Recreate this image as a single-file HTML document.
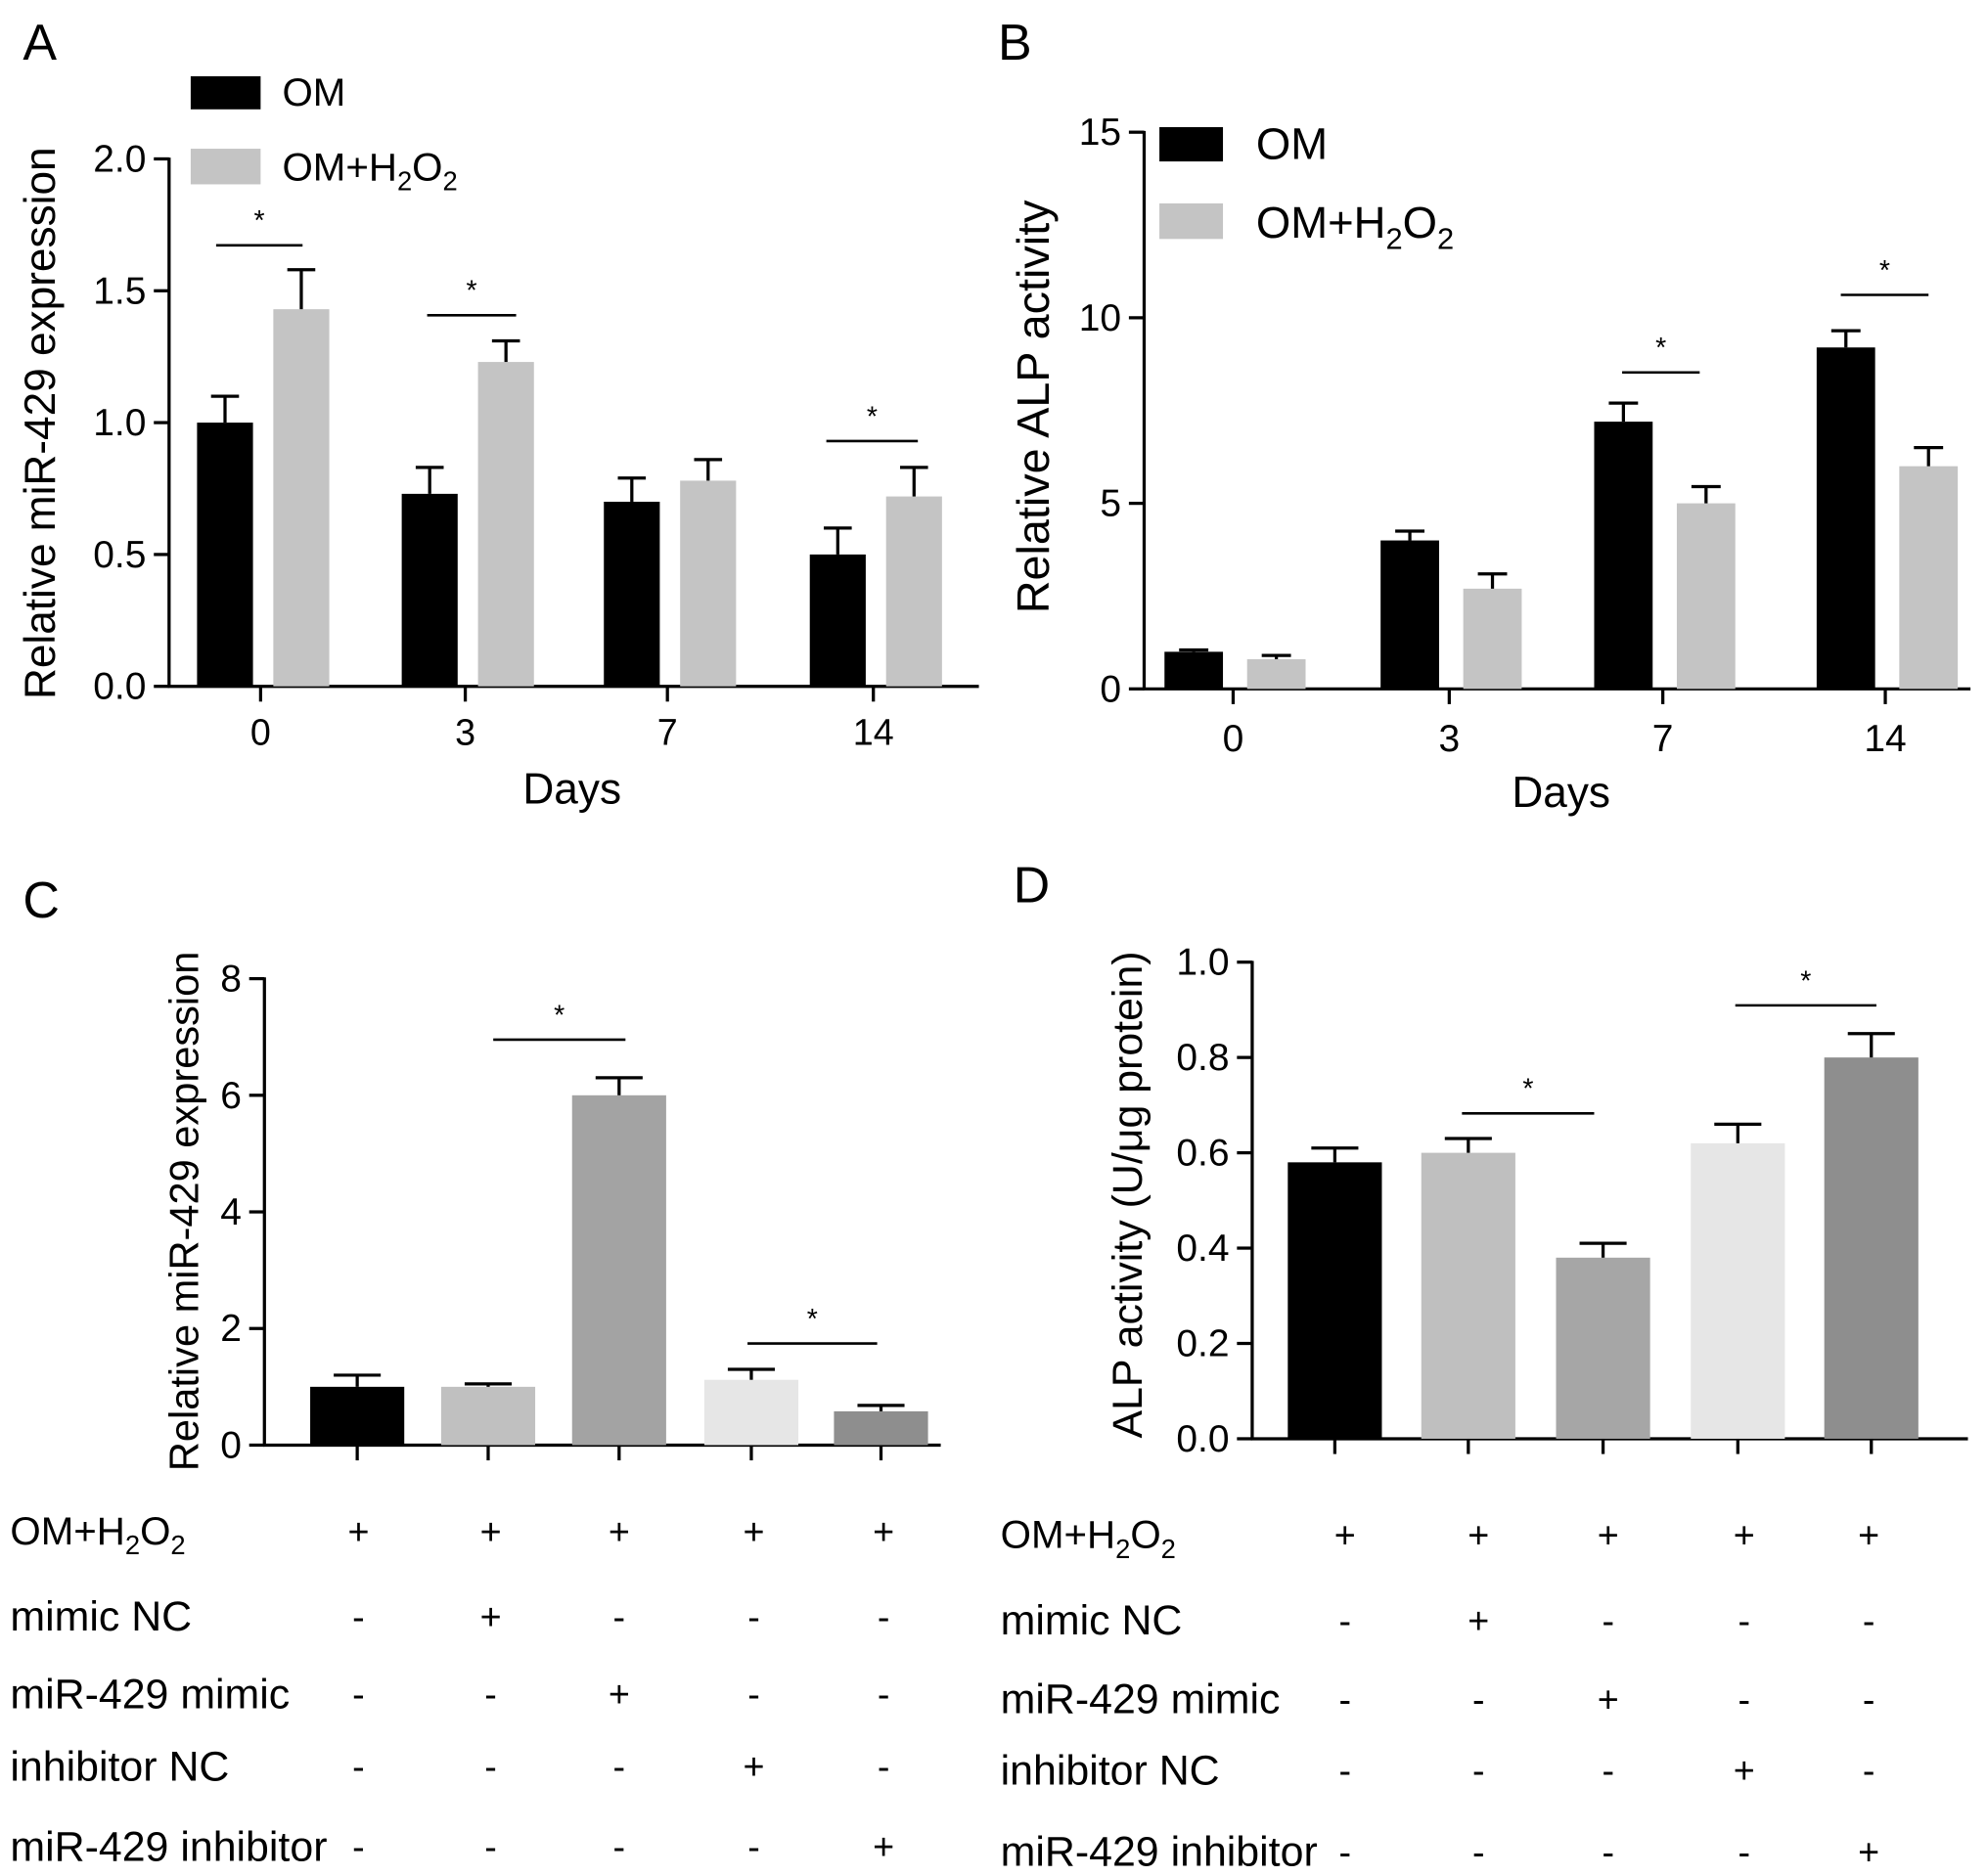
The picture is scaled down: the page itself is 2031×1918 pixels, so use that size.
<!DOCTYPE html>
<html><head><meta charset="utf-8"><style>
html,body{margin:0;padding:0;background:#fff}
svg{display:block;font-family:"Liberation Sans",Arial,sans-serif}
</style></head><body>
<svg id="fig" width="2031" height="1918" viewBox="0 0 1563 1476" xmlns="http://www.w3.org/2000/svg">
<g id="root"></g>
</svg>
<script>
// Panel A data
const aCats=["0","3","7","14"];
const aOM=[1.0,0.73,0.70,0.50];
const aOMerr=[0.10,0.10,0.09,0.10];
const aH=[1.43,1.23,0.78,0.72];
const aHerr=[0.15,0.08,0.08,0.11];
const aTicks=[0,0.5,1.0,1.5,2.0];
// Panel B data
const bCats=["0","3","7","14"];
const bOM=[1.0,4.0,7.2,9.2];
const bOMerr=[0.05,0.25,0.5,0.45];
const bH=[0.8,2.7,5.0,6.0];
const bHerr=[0.1,0.4,0.45,0.5];
const bTicks=[0,5,10,15];
// Panel C data
const cVals=[1.0,1.0,6.0,1.12,0.58];
const cErr=[0.2,0.05,0.3,0.18,0.1];
const cTicks=[0,2,4,6,8];
// Panel D data
const dVals=[0.58,0.60,0.38,0.62,0.80];
const dErr=[0.03,0.03,0.03,0.04,0.05];
const dTicks=[0,0.2,0.4,0.6,0.8,1.0];
const rowLabels=["OM+H\u2082O\u2082","mimic NC","miR-429 mimic","inhibitor NC","miR-429 inhibitor"];
const signs=[["+","+","+","+","+"],["-","+","-","-","-"],["-","-","+","-","-"],["-","-","-","+","-"],["-","-","-","-","+"]];

const NS="http://www.w3.org/2000/svg";
const root=document.getElementById('root');
function el(tag,attrs,parent,text){const e=document.createElementNS(NS,tag);for(const k in attrs)e.setAttribute(k,attrs[k]);if(text!==undefined)e.textContent=text;(parent||root).appendChild(e);return e;}
function line(x1,y1,x2,y2,w,p){return el('line',{x1,y1,x2,y2,stroke:'#000','stroke-width':w||2.5},p);}

function axes(x0,y0,yTop,xEnd,ticks,yFn,fmt,name,p){
  const g=el('g',{},p);
  
  
  line(x0,y0,x0,yTop-1,2.5,g);
  line(x0-1,y0,xEnd,y0,2.5,g);
  ticks.forEach(t=>{const y=yFn(t);line(x0-12,y,x0,y,2.5,g);
    const tx=el('text',{x:x0-18,y:y+10,'text-anchor':'end','font-size':30},g,fmt(t));
    
    });
  return g;
}
function bar(x,w,y0,yv,ye,color,name,p){
  const r=el('rect',{x:x-w/2,y:yv,width:w,height:y0-yv,fill:color},p);
  
  
  line(x,yv,x,ye,2.5,p);line(x-w/4,ye,x+w/4,ye,2.5,p);
}
function sig(x1,x2,y,p){line(x1,y,x2,y,2,p);el('text',{x:(x1+x2)/2,y:y-12,'text-anchor':'middle','font-size':22},p,'*');}
function ylabel(x,y,txt,name,size){const t=el('text',{x:0,y:0,transform:`translate(${x},${y}) rotate(-90)`,'text-anchor':'middle','font-size':size||30});t.textContent=txt;
  
  return t;}
function sub(parent,x,y,size,anchor){
  const t=el('text',{x,y,'font-size':size,'text-anchor':anchor||'start'},parent);
  el('tspan',{},t,'OM+H');
  el('tspan',{'font-size':size*0.68,dy:size*0.25},t,'2');
  el('tspan',{dy:-size*0.25},t,'O');
  el('tspan',{'font-size':size*0.68,dy:size*0.25},t,'2');
  return t;
}
function letter(x,y,c){const t=el('text',{x,y,'font-size':40},root,c);
  
  }

// ---------- Panel A ----------
(function(){
  const g=el('g',{});
  const x0=133,y0=540,yTop=125,xEnd=770;
  const y=v=>y0-(v/2.0)*(y0-yTop);
  const cx=[205,366,525,687];
  axes(x0,y0,yTop,xEnd,aTicks,y,t=>t.toFixed(1),'panel-a',g);
  aCats.forEach((c,i)=>{
    bar(cx[i]-28,44,y0,y(aOM[i]),y(aOM[i]+aOMerr[i]),'#000','bar-om-day'+c,g);
    bar(cx[i]+32,44,y0,y(aH[i]),y(aH[i]+aHerr[i]),'#c4c4c4','bar-om-h2o2-day'+c,g);
    line(cx[i],y0,cx[i],y0+12,2.5,g);
    const t=el('text',{x:cx[i],y:y0+46,'text-anchor':'middle','font-size':29},g,c);
    
  });
  sig(170,238,193,g);sig(336,406,248,g);sig(650,722,347,g);
  const xt=el('text',{x:450,y:632,'text-anchor':'middle','font-size':34},g,'Days');
  
  g.appendChild(ylabel(43,333,'Relative miR-429 expression','y-axis-title',34));
  const lg=el('g',{},g);
  el('rect',{x:150,y:60,width:55,height:26,fill:'#000'},lg);
  el('text',{x:222,y:83,'font-size':31},lg,'OM');
  el('rect',{x:150,y:117,width:55,height:28,fill:'#c4c4c4'},lg);
  sub(lg,222,142,31);
})();
letter(18,47,'A');

// ---------- Panel B ----------
(function(){
  const g=el('g',{});
  const x0=900,y0=542,yTop=104,xEnd=1550;
  const y=v=>y0-(v/15)*(y0-yTop);
  const cx=[970,1140,1308,1483];
  axes(x0,y0,yTop,xEnd,bTicks,y,t=>String(t),'panel-b',g);
  bCats.forEach((c,i)=>{
    bar(cx[i]-31,46,y0,y(bOM[i]),y(bOM[i]+bOMerr[i]),'#000','bar-om-day'+c,g);
    bar(cx[i]+34,46,y0,y(bH[i]),y(bH[i]+bHerr[i]),'#c4c4c4','bar-om-h2o2-day'+c,g);
    line(cx[i],y0,cx[i],y0+12,2.5,g);
    const t=el('text',{x:cx[i],y:y0+49,'text-anchor':'middle','font-size':30},g,c);
    
  });
  sig(1276,1337,293,g);sig(1448,1517,232,g);
  const xt=el('text',{x:1228,y:635,'text-anchor':'middle','font-size':34},g,'Days');
  
  g.appendChild(ylabel(825,320,'Relative ALP activity','y-axis-title',36));
  const lg=el('g',{},g);
  el('rect',{x:912,y:100,width:50,height:27,fill:'#000'},lg);
  el('text',{x:988,y:125,'font-size':35},lg,'OM');
  el('rect',{x:912,y:160,width:50,height:28,fill:'#c4c4c4'},lg);
  sub(lg,988,187,35);
})();
letter(785,47,'B');

// ---------- Panels C / D ----------
function condPanel(name,x0,y0,yTop,xEnd,maxV,ticks,fmt,vals,errs,cx,colors,bw,sigs,ylab,ylx,yly,labX,rowsY,signX,ysize){
  const g=el('g',{});
  const y=v=>y0-(v/maxV)*(y0-yTop);
  axes(x0,y0,yTop,xEnd,ticks,y,fmt,name,g);
  vals.forEach((v,i)=>{bar(cx[i],bw,y0,y(v),y(v+errs[i]),colors[i],'bar-group-'+(i+1),g);line(cx[i],y0,cx[i],y0+12,2.5,g);});
  sigs.forEach(s=>sig(s[0],s[1],s[2],g));
  g.appendChild(ylabel(ylx,yly,ylab,'y-axis-title',ysize||28));
  const tb=el('g',{},g);
  rowLabels.forEach((l,r)=>{
    if(r===0){sub(tb,labX,rowsY[r]+10,31);} else el('text',{x:labX,y:rowsY[r]+11,'font-size':33},tb,l);
    signs[r].forEach((s,i)=>el('text',{x:signX[i],y:rowsY[r]+10,'text-anchor':'middle','font-size':29},tb,s));
  });
}
condPanel('panel-c',208,1137,770,740,8,cTicks,t=>String(t),cVals,cErr,[281,384,487,591,693],
  ['#000','#c0c0c0','#a3a3a3','#e6e6e6','#8e8e8e'],74,[[388,492,818],[588,690,1057]],
  'Relative miR-429 expression',156,953,8,[1205,1272,1333,1390,1453],[282,386,487,593,695],32);
letter(18,722,'C');
condPanel('panel-d',985,1132,757,1548,1.0,dTicks,t=>t.toFixed(1),dVals,dErr,[1050,1155,1261,1367,1472],
  ['#000','#bfbfbf','#a6a6a6','#e6e6e6','#8e8e8e'],74,[[1150,1254,876],[1365,1476,791]],
  'ALP activity (U/\u03bcg protein)',898,940,787,[1208,1275,1337,1393,1457],[1058,1163,1265,1372,1470],33);
letter(797,710,'D');
</script>
</body></html>
